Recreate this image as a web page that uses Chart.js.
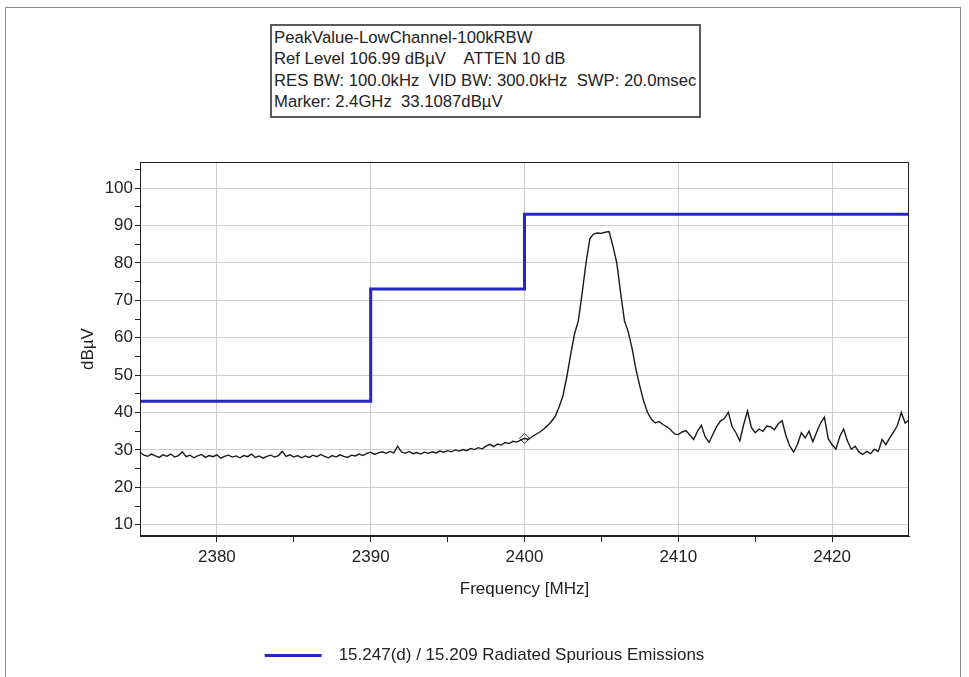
<!DOCTYPE html>
<html>
<head>
<meta charset="utf-8">
<script src="https://cdn.jsdelivr.net/npm/chart.js@4"></script>
<style>
  html, body { margin: 0; padding: 0; background: #fff; }
  #wrap { position: relative; width: 969px; height: 677px; }
  #frame { position: absolute; left: 5px; top: 7px; width: 956px; height: 670px; border: 1px solid #8a8a8a; border-bottom: none; box-sizing: border-box; }
  #info { position: absolute; left: 270px; top: 24px; width: 431px; height: 94px; border: 2px solid #5a5a5a; box-sizing: border-box;
          font: 16.7px "Liberation Sans", Arial, sans-serif; color: #222; padding: 1px 0 0 2px; line-height: 21.4px; white-space: nowrap; background: #fff; }
  canvas { position: absolute; left: 0; top: 0; }
</style>
</head>
<body>
<div id="wrap">
  <div id="frame"></div>
  <canvas id="chart" width="969" height="677"></canvas>
  <div id="info">
    PeakValue-LowChannel-100kRBW<br>
    Ref Level 106.99 dBµV &nbsp;&nbsp; ATTEN 10 dB<br>
    RES BW: 100.0kHz &nbsp;VID BW: 300.0kHz &nbsp;SWP: 20.0msec<br>
    Marker: 2.4GHz &nbsp;33.1087dBµV
  </div>
</div>
<script>
const LIMIT_COLOR = '#2626c4';

// limit line (15.247(d) / 15.209)
const limitFreqs = [2375, 2390, 2390, 2400, 2400, 2425];
const limitLevels = [43, 43, 73, 73, 93, 93];

const traceFreqs = [
  2375, 2375.25, 2375.5, 2375.75, 2376, 2376.25, 2376.5, 2376.75, 2377, 2377.25, 2377.5, 2377.75,
  2378, 2378.25, 2378.5, 2378.75, 2379, 2379.25, 2379.5, 2379.75, 2380, 2380.25, 2380.5, 2380.75,
  2381, 2381.25, 2381.5, 2381.75, 2382, 2382.25, 2382.5, 2382.75, 2383, 2383.25, 2383.5, 2383.75,
  2384, 2384.25, 2384.5, 2384.75, 2385, 2385.25, 2385.5, 2385.75, 2386, 2386.25, 2386.5, 2386.75,
  2387, 2387.25, 2387.5, 2387.75, 2388, 2388.25, 2388.5, 2388.75, 2389, 2389.25, 2389.5, 2389.75,
  2390, 2390.25, 2390.5, 2390.75, 2391, 2391.25, 2391.5, 2391.75, 2392, 2392.25, 2392.5, 2392.75,
  2393, 2393.25, 2393.5, 2393.75, 2394, 2394.25, 2394.5, 2394.75, 2395, 2395.25, 2395.5, 2395.75,
  2396, 2396.25, 2396.5, 2396.75, 2397, 2397.25, 2397.5, 2397.75, 2398, 2398.25, 2398.5, 2398.75,
  2399, 2399.25, 2399.5, 2399.75, 2400,
  2400.25, 2400.5, 2400.75, 2401, 2401.25, 2401.5, 2401.75, 2402, 2402.25, 2402.5, 2402.75,
  2403, 2403.25, 2403.5, 2403.75, 2404, 2404.25, 2404.5, 2404.75, 2405, 2405.25, 2405.5, 2405.75,
  2406, 2406.25, 2406.5, 2406.75, 2407, 2407.25, 2407.5, 2407.75, 2408, 2408.25, 2408.5, 2408.75,
  2409, 2409.25, 2409.5, 2409.75, 2410, 2410.25, 2410.5, 2410.75, 2411, 2411.25, 2411.5, 2411.75,
  2412, 2412.25, 2412.5, 2412.75, 2413, 2413.25, 2413.5, 2413.75, 2414, 2414.25, 2414.5, 2414.75,
  2415, 2415.25, 2415.5, 2415.75, 2416, 2416.25, 2416.5, 2416.75, 2417, 2417.25, 2417.5, 2417.75,
  2418, 2418.25, 2418.5, 2418.75, 2419, 2419.25, 2419.5, 2419.75, 2420, 2420.25, 2420.5, 2420.75,
  2421, 2421.25, 2421.5, 2421.75, 2422, 2422.25, 2422.5, 2422.75, 2423, 2423.25, 2423.5, 2423.75,
  2424, 2424.25, 2424.5, 2424.75, 2425
];
const traceLevels = [
  29.4, 28.6, 28.3, 28.9, 28.4, 28.0, 28.7, 28.3, 28.9, 28.1, 28.5, 29.5,
  28.2, 28.6, 27.9, 28.4, 28.8, 28.0, 28.5, 28.2, 28.7, 27.8, 28.3, 28.6,
  28.1, 28.4, 27.9, 28.5, 28.2, 28.9, 28.0, 28.4, 27.8, 28.3, 28.6, 28.1,
  28.5, 29.6, 28.3, 28.7, 28.1, 28.5, 27.9, 28.4, 28.0, 28.6, 28.2, 28.8,
  28.3, 27.9, 28.5, 28.1, 28.7, 28.3, 28.0, 28.6, 28.4, 28.9, 28.5, 29.1,
  29.4, 28.8, 29.2, 29.5, 29.1, 29.6, 29.2, 31.0, 29.5, 29.1, 29.6, 29.0,
  29.3, 28.9, 29.4, 29.1, 29.5, 29.2, 29.7, 29.4, 29.8, 29.5, 30.0, 29.7,
  30.1, 29.8, 30.4, 30.1, 30.6, 30.3, 31.0, 31.5, 30.9, 31.6, 31.3, 32.0,
  31.7, 32.3, 32.1, 32.6, 33.1,
  32.8, 33.6, 34.2, 34.8, 35.6, 36.5, 37.6, 39.0, 41.5, 44.5, 49.5,
  55.5, 61.0, 64.5, 72.0, 80.0, 86.5, 87.8, 88.0, 87.9, 88.2, 88.4, 84.5,
  80.0, 72.0, 64.5, 61.5, 57.0, 51.5, 47.0, 43.0, 40.0, 38.2, 37.2, 37.6,
  36.8, 36.2, 35.4, 34.3, 34.1, 34.8, 35.2, 34.0, 32.8, 35.0, 36.6, 33.5,
  32.0, 34.2, 36.3, 37.8, 38.4, 40.1, 36.2, 34.6, 32.4, 36.8, 40.4, 36.0,
  34.6, 35.6, 35.0, 36.4, 36.2, 35.4, 37.0, 37.8, 33.8, 31.0, 29.4, 31.5,
  34.6, 33.2, 35.0, 32.2, 34.8, 37.2, 38.8, 33.0, 31.4, 30.2, 33.6, 35.6,
  32.4, 30.2, 31.0, 29.4, 28.8, 29.6, 29.0, 30.2, 29.6, 32.8, 31.4, 33.2,
  34.8, 36.6, 40.0, 37.2, 38.0
];

// marker
const markerFreq = 2400;
const markerLevel = 33.1087;

// axes
const xMin = 2375, xMax = 2425;
const yMin = 6.99, yMax = 106.99;
const xTickValues = [2380, 2385, 2390, 2395, 2400, 2405, 2410, 2415, 2420];
const yTickValues = [10, 15, 20, 25, 30, 35, 40, 45, 50, 55, 60, 65, 70, 75, 80, 85, 90, 95, 100, 105];

const FONT = { family: '"Liberation Sans", Arial, sans-serif', size: 17 };
const isMajor = v => v % 10 === 0;

const plotBox = {
  id: 'plotBox',
  afterDatasetsDraw(chart) {
    const a = chart.chartArea, ctx = chart.ctx;
    ctx.save();
    ctx.strokeStyle = '#222';
    ctx.lineWidth = 1;
    ctx.strokeRect(a.left + 0.5, a.top + 0.5, a.right - a.left - 1, a.bottom - a.top - 1);
    ctx.restore();
  }
};

new Chart(document.getElementById('chart'), {
  type: 'line',
  data: {
    datasets: [
      {
        label: '15.247(d) / 15.209 Radiated Spurious Emissions',
        data: limitFreqs.map((f, i) => ({ x: f, y: limitLevels[i] })),
        borderColor: LIMIT_COLOR,
        backgroundColor: LIMIT_COLOR,
        borderWidth: 3,
        pointRadius: 0,
        tension: 0
      },
      {
        label: 'trace',
        data: traceFreqs.map((f, i) => ({ x: f, y: traceLevels[i] })),
        borderColor: '#1a1a1a',
        borderWidth: 1.4,
        pointRadius: 0,
        tension: 0
      },
      {
        label: 'marker',
        data: [{ x: markerFreq, y: markerLevel }],
        showLine: false,
        pointStyle: 'rectRot',
        pointRadius: 5,
        borderColor: '#333',
        borderWidth: 1,
        backgroundColor: 'rgba(255,255,255,0)'
      }
    ]
  },
  options: {
    responsive: false,
    animation: false,
    layout: { padding: { left: 0, right: 0, top: 162, bottom: 3 } },
    plugins: {
      tooltip: { enabled: false },
      legend: {
        position: 'bottom',
        labels: {
          color: '#222',
          font: FONT,
          boxWidth: 57,
          boxHeight: 3,
          padding: 10,
          generateLabels: chart => Chart.defaults.plugins.legend.labels.generateLabels(chart)
            .filter(l => l.datasetIndex === 0)
            .map(l => ({ ...l, text: '\u2002' + l.text, lineWidth: 0, fillStyle: LIMIT_COLOR }))
        }
      }
    },
    scales: {
      x: {
        type: 'linear',
        min: xMin,
        max: xMax,
        afterBuildTicks: s => { s.ticks = xTickValues.map(v => ({ value: v })); },
        afterFit: s => { s.height = 101; },
        ticks: {
          color: '#222',
          font: FONT,
          padding: 5,
          maxRotation: 0,
          autoSkip: false,
          callback: v => isMajor(v) ? v : ''
        },
        grid: {
          color: c => c.tick && isMajor(c.tick.value) ? '#cdcdcd' : 'rgba(0,0,0,0)',
          tickColor: '#222',
          tickLength: 6,
          drawTicks: true
        },
        border: { display: true, color: '#222' },
        title: { display: true, text: 'Frequency [MHz]', color: '#222', font: FONT, padding: { top: 4, bottom: 37 } }
      },
      y: {
        min: yMin,
        max: yMax,
        afterBuildTicks: s => { s.ticks = yTickValues.map(v => ({ value: v })); },
        afterFit: s => { s.width = 140; },
        ticks: {
          color: '#222',
          font: FONT,
          padding: 2,
          autoSkip: false,
          callback: v => isMajor(v) ? v : ''
        },
        grid: {
          color: c => c.tick && isMajor(c.tick.value) ? '#cdcdcd' : 'rgba(0,0,0,0)',
          tickColor: '#222',
          tickLength: 5
        },
        border: { display: true, color: '#222' },
        title: { display: true, text: 'dBµV', color: '#222', font: FONT, padding: { top: 78, bottom: 0 } }
      },
      // empty right-hand axis that only reserves the margin beside the plot
      spacer: {
        position: 'right',
        min: yMin,
        max: yMax,
        afterFit: s => { s.width = 60; },
        ticks: { display: false },
        grid: { display: false, drawTicks: false },
        border: { display: false }
      }
    }
  },
  plugins: [plotBox]
});
</script>
</body>
</html>
